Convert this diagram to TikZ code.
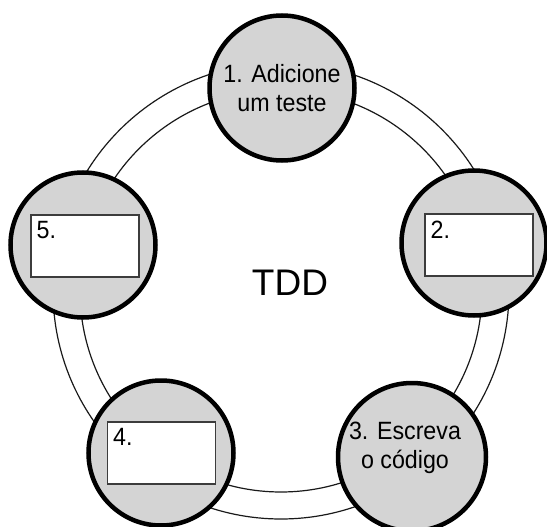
\documentclass[tikz,border=0pt]{standalone}
\usepackage{fontspec}
\setmainfont{Liberation Sans}[FakeStretch=0.93]
\newfontfamily\tddfont{Liberation Sans}
\definecolor{stepgray}{RGB}{212,212,212}
\definecolor{boxline}{RGB}{60,60,60}
\begin{document}
\begin{tikzpicture}[x=1pt,y=-1pt,
  ringline/.style={draw=black!90, line width=1.2pt},
  stepcircle/.style={circle, draw=black, fill=stepgray, line width=4.5pt,
    minimum size=145pt, inner sep=0pt, align=center,
    font=\fontsize{25}{29}\selectfont},
  stepbox/.style={draw=boxline, fill=white, line width=1.1pt,
    minimum width=108pt, minimum height=62pt, inner sep=0pt},
  steplabel/.style={anchor=north west, inner sep=0pt,
    font=\fontsize{25}{29}\selectfont},
  steptext/.style={align=center, inner sep=0pt,
    font=\fontsize{25}{29}\selectfont},
  centerlabel/.style={font=\tddfont\fontsize{37}{40}\selectfont}]
\useasboundingbox (0,0) rectangle (547,527);
\coordinate (o) at (281,291);
\draw[ringline] (o) circle[radius=228pt];
\draw[ringline] (o) circle[radius=201pt];
\node[stepcircle] (c1) at (282,88) {1. Adicione\\um teste};
\node[stepcircle] (c2) at (474,243) {};
\node[stepcircle, minimum size=148pt] (c3) at (412,457) {};
\node[stepcircle] (c4) at (161,453) {};
\node[stepcircle] (c5) at (83,245) {};
\node[steptext] (t3) at (405,448) {3. Escreva\\o c\'odigo};
\node[stepbox] (b2) at (479,245) {};
\node[stepbox] (b4) at (161.5,453) {};
\node[stepbox] (b5) at (85,246) {};
\node[steplabel] (t2) at ([shift={(6pt,-7pt)}]b2.north west) {2.};
\node[steplabel] (t4) at ([shift={(6pt,-7pt)}]b4.north west) {4.};
\node[steplabel] (t5) at ([shift={(6pt,-7pt)}]b5.north west) {5.};
\node[centerlabel] (tdd) at (290,283) {TDD};
\end{tikzpicture}
\end{document}
